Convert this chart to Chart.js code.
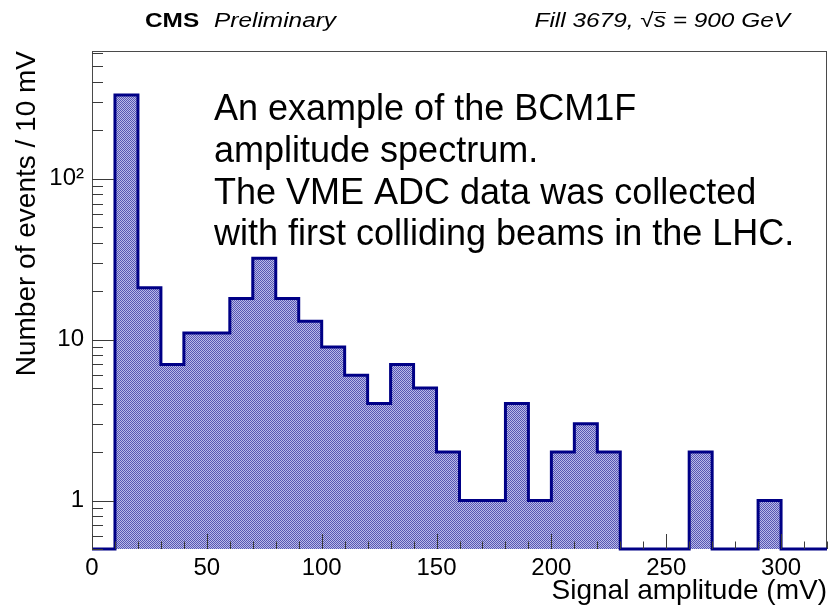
<!DOCTYPE html>
<html><head><meta charset="utf-8">
<script src="https://cdn.jsdelivr.net/npm/chart.js@4.4.0/dist/chart.umd.min.js"></script>
<style>html,body{margin:0;padding:0;background:#fff;}#wrap{width:831px;height:606px;}</style>
</head><body><div id="wrap"><canvas id="c" width="831" height="606"></canvas></div>
<script>
// ---- data ----
const binLowEdges = [0,10,20,30,40,50,60,70,80,90,100,110,120,130,140,150,160,170,180,190,200,210,220,230,240,250,260,270,280,290,300,310];
const counts      = [0,330,21,7,11,11,18,32,18,13,9,6,4,7,5,2,1,1,4,1,2,3,2,0,0,0,2,0,0,1,0,0];
const binWidth = 10;
const xTickValues = [0,50,100,150,200,250,300];
const yTickValues = [1,10,100];
const yTickLabels = ['1','10','10\u00B2'];
const xTitle = 'Signal amplitude (mV)';
const yTitle = 'Number of events / 10 mV';
const annotationLines = [
  'An example of the BCM1F',
  'amplitude spectrum.',
  'The VME ADC data was collected',
  'with first colliding beams in the LHC.'
];
const X_MIN = 0, X_MAX = 320, Y_MIN = 0.5, Y_MAX = 620;

const FONT = '"Liberation Sans", Arial, sans-serif';
const canvas = document.getElementById('c');
const ctx0 = canvas.getContext('2d');

// hatch-like checker pattern
const pc = document.createElement('canvas'); pc.width = 2; pc.height = 2;
const pctx = pc.getContext('2d');
pctx.fillStyle = '#b9b9e9'; pctx.fillRect(0,0,2,2);
pctx.fillStyle = '#5656b2'; pctx.fillRect(0,0,1,1); pctx.fillRect(1,1,1,1);
const pattern = ctx0.createPattern(pc, 'repeat');

const points = binLowEdges.map((e,i) => ({x: e, y: counts[i] > 0 ? counts[i] : Y_MIN}));
points.push({x: X_MAX, y: Y_MIN});

const HS = 1.22; // horizontal stretch of header text
function stretchedText(ctx, text, x, y) {
  ctx.save(); ctx.translate(x, y); ctx.scale(HS, 1); ctx.fillText(text, 0, 0); ctx.restore();
}

const framePlugin = {
  id: 'frame',
  beforeDatasetsDraw(chart) {
    const {ctx, chartArea: {left, top, right, bottom}} = chart;
    ctx.save();
    ctx.strokeStyle = '#4a4a4a'; ctx.lineWidth = 1;
    ctx.strokeRect(left + 0.5, top + 0.5, right - left - 1, bottom - top - 1);
    ctx.restore();
  },
  afterDatasetsDraw(chart) {
    const {ctx, chartArea: {left, top, right, bottom}, scales: {x, y}} = chart;
    ctx.save();
    ctx.strokeStyle = '#3a3a3a'; ctx.lineWidth = 1;
    ctx.beginPath();
    for (let v = X_MIN; v <= X_MAX; v += binWidth) {
      const px = Math.round(x.getPixelForValue(v)) + 0.5;
      const len = xTickValues.includes(v) ? 15 : 7.5;
      ctx.moveTo(px, bottom); ctx.lineTo(px, bottom - len);
    }
    for (let d = -1; d <= 2; d++) {
      for (let m = 1; m <= 9; m++) {
        const v = m * Math.pow(10, d);
        if (v < Y_MIN || v > Y_MAX) continue;
        const py = Math.round(y.getPixelForValue(v)) + 0.5;
        const len = m === 1 ? 22 : 11;
        ctx.moveTo(left, py); ctx.lineTo(left + len, py);
      }
    }
    ctx.stroke();
    ctx.restore();
  },
  afterDraw(chart) {
    const ctx = chart.ctx;
    ctx.save();
    ctx.fillStyle = '#000';
    ctx.textBaseline = 'alphabetic';
    // header
    ctx.font = 'bold 20px ' + FONT;
    stretchedText(ctx, 'CMS', 145, 27);
    ctx.font = 'italic 20px ' + FONT;
    stretchedText(ctx, 'Preliminary', 214, 27);
    // Fill 3679, sqrt(s) = 900 GeV (right aligned at 790)
    const p1 = 'Fill 3679, ', p2 = '\u221A', p3 = 's', p4 = ' = 900 GeV';
    const w1 = ctx.measureText(p1).width * HS, w2 = ctx.measureText(p2).width * HS,
          w3 = ctx.measureText(p3).width * HS, w4 = ctx.measureText(p4).width * HS;
    let xs = 790 - (w1 + w2 + w3 + w4);
    stretchedText(ctx, p1, xs, 27); xs += w1;
    stretchedText(ctx, p2, xs, 27); xs += w2;
    stretchedText(ctx, p3, xs, 27);
    ctx.beginPath(); ctx.strokeStyle = '#000'; ctx.lineWidth = 1;
    ctx.moveTo(xs, 12.5); ctx.lineTo(xs + w3, 12.5); ctx.stroke();
    xs += w3;
    stretchedText(ctx, p4, xs, 27);
    // annotation
    ctx.font = '36px ' + FONT;
    annotationLines.forEach((t, i) => ctx.fillText(t, 214, 120 + i * 41.8));
    ctx.restore();
  }
};

new Chart(canvas, {
  type: 'line',
  data: {
    datasets: [{
      data: points,
      stepped: 'before',
      borderColor: '#000086',
      borderWidth: 3,
      backgroundColor: pattern,
      fill: 'start',
      pointRadius: 0,
      tension: 0,
      clip: false,
      borderJoinStyle: 'miter'
    }]
  },
  options: {
    responsive: false,
    animation: false,
    devicePixelRatio: 1,
    layout: {padding: {top: 51, right: 4, left: 0, bottom: 0}},
    plugins: {legend: {display: false}, tooltip: {enabled: false}},
    scales: {
      x: {
        type: 'linear', min: X_MIN, max: X_MAX,
        afterBuildTicks: s => { s.ticks = xTickValues.map(v => ({value: v})); },
        afterFit: s => { s.height = 57; },
        ticks: {font: {family: FONT, size: 24}, color: '#000', padding: 5, maxRotation: 0, autoSkip: false,
                callback: v => String(v)},
        grid: {display: false, drawTicks: false},
        border: {display: false},
        title: {display: true, text: xTitle, align: 'end', color: '#000',
                font: {family: FONT, size: 28}, padding: {top: 0, bottom: -2}}
      },
      y: {
        type: 'logarithmic', min: Y_MIN, max: Y_MAX,
        afterBuildTicks: s => { s.ticks = yTickValues.map(v => ({value: v})); },
        afterFit: s => { s.width = 92; },
        ticks: {font: {family: FONT, size: 24}, color: '#000', padding: 8, autoSkip: false,
                callback: (v, i) => yTickLabels[i]},
        grid: {display: false, drawTicks: false},
        border: {display: false},
        title: {display: true, text: yTitle, align: 'end', color: '#000',
                font: {family: FONT, size: 28}, padding: {top: 10, bottom: 0}}
      }
    }
  },
  plugins: [framePlugin]
});
</script>
</body></html>
